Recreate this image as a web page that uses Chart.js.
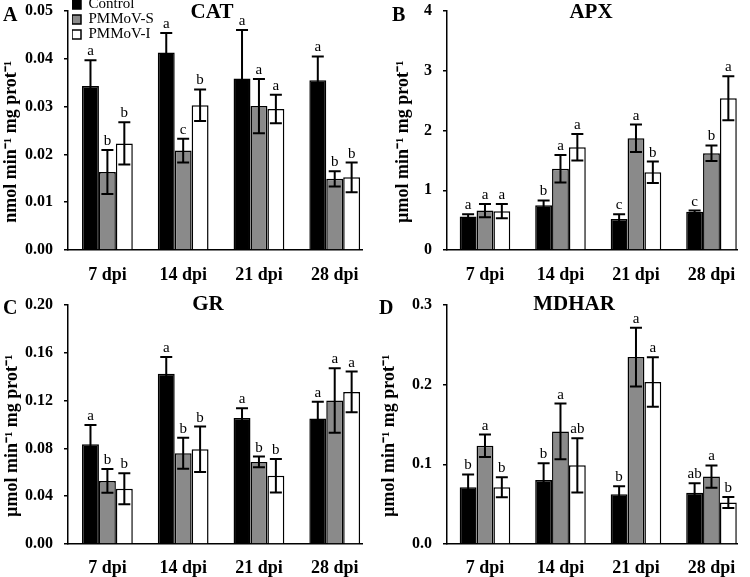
<!DOCTYPE html>
<html>
<head>
<meta charset="utf-8">
<script src="https://cdn.jsdelivr.net/npm/chart.js@4/dist/chart.umd.min.js"></script>
<style>
  html, body { margin: 0; padding: 0; background: #fff; }
  #wrap { position: relative; width: 750px; height: 577px; }
  canvas { position: absolute; }
</style>
</head>
<body>
<div id="wrap">
  <canvas id="cat" width="375" height="290" style="left:0;top:0"></canvas>
  <canvas id="apx" width="375" height="290" style="left:375px;top:0"></canvas>
  <canvas id="gr" width="375" height="287" style="left:0;top:290px"></canvas>
  <canvas id="mdhar" width="375" height="287" style="left:375px;top:290px"></canvas>
</div>
<script>
const days = ['7 dpi', '14 dpi', '21 dpi', '28 dpi'];
const groups = ['Control', 'PMMoV-S', 'PMMoV-I'];

// CAT
const catControl = [0.0343, 0.0413, 0.0359, 0.0355];
const catS = [0.0163, 0.0208, 0.0301, 0.0149];
const catI = [0.0223, 0.0303, 0.0295, 0.0152];
const catErrControl = [0.0054, 0.0041, 0.0101, 0.0050];
const catErrS = [0.0046, 0.0025, 0.0057, 0.0016];
const catErrI = [0.0044, 0.0033, 0.0030, 0.0031];
const catLetControl = ['a', 'a', 'a', 'a'];
const catLetS = ['b', 'c', 'a', 'b'];
const catLetI = ['b', 'b', 'a', 'b'];
const catTicks = [0, 0.01, 0.02, 0.03, 0.04, 0.05];

// APX
const apxControl = [0.56, 0.75, 0.52, 0.64];
const apxS = [0.66, 1.36, 1.87, 1.62];
const apxI = [0.65, 1.72, 1.30, 2.54];
const apxErrControl = [0.04, 0.08, 0.08, 0.02];
const apxErrS = [0.11, 0.23, 0.23, 0.13];
const apxErrI = [0.12, 0.22, 0.18, 0.37];
const apxLetControl = ['a', 'b', 'c', 'c'];
const apxLetS = ['a', 'a', 'a', 'b'];
const apxLetI = ['a', 'a', 'b', 'a'];
const apxTicks = [0, 1, 2, 3, 4];

// GR
const grControl = [0.0835, 0.1424, 0.1055, 0.1050];
const grS = [0.0528, 0.0759, 0.0687, 0.1200];
const grI = [0.0463, 0.0793, 0.0572, 0.1273];
const grErrControl = [0.016, 0.014, 0.008, 0.014];
const grErrS = [0.010, 0.013, 0.0045, 0.027];
const grErrI = [0.013, 0.019, 0.014, 0.017];
const grLetControl = ['a', 'a', 'a', 'a'];
const grLetS = ['b', 'b', 'b', 'a'];
const grLetI = ['b', 'b', 'b', 'a'];
const grTicks = [0, 0.04, 0.08, 0.12, 0.16, 0.20];

// MDHAR
const mdharControl = [0.0713, 0.0804, 0.0625, 0.0642];
const mdharS = [0.1233, 0.1413, 0.2346, 0.0846];
const mdharI = [0.0713, 0.0988, 0.2033, 0.0521];
const mdharErrControl = [0.016, 0.021, 0.010, 0.012];
const mdharErrS = [0.014, 0.035, 0.037, 0.014];
const mdharErrI = [0.0125, 0.034, 0.031, 0.007];
const mdharLetControl = ['b', 'b', 'b', 'ab'];
const mdharLetS = ['a', 'a', 'a', 'a'];
const mdharLetI = ['b', 'ab', 'a', 'b'];
const mdharTicks = [0, 0.1, 0.2, 0.3];

const SERIF = "'Liberation Serif', 'Times New Roman', serif";
Chart.defaults.font.family = SERIF;
Chart.defaults.color = '#000';
Chart.defaults.animation = false;

const fills = ['#000000', '#8a8a8a', '#ffffff'];

// error bars, significance letters, panel title and letter
const deco = {
  id: 'deco',
  afterLayout(chart, args, o) {
    const lg = chart.legend;
    if (lg && o.legendAt) {
      lg.left = o.legendAt[0];
      lg.top = o.legendAt[1];
      lg.right = lg.left + 90;
      lg.bottom = lg.top + 80;
      lg.width = 90;
      lg.height = 80;
    }
  },
  afterDatasetsDraw(chart) {
    const ctx = chart.ctx, ys = chart.scales.y;
    ctx.save();
    chart.data.datasets.forEach((ds, d) => {
      chart.getDatasetMeta(d).data.forEach((bar, i) => {
        const v = ds.data[i].y, e = ds.errors[i];
        const top = ys.getPixelForValue(v + e), bot = ys.getPixelForValue(v - e);
        ctx.strokeStyle = '#000';
        ctx.lineWidth = 2;
        ctx.beginPath();
        ctx.moveTo(bar.x, bot); ctx.lineTo(bar.x, top);
        ctx.moveTo(bar.x - 6, top); ctx.lineTo(bar.x + 6, top);
        ctx.moveTo(bar.x - 6, bot); ctx.lineTo(bar.x + 6, bot);
        ctx.stroke();
        ctx.fillStyle = '#000';
        ctx.font = '15px ' + SERIF;
        ctx.textAlign = 'center';
        ctx.textBaseline = 'alphabetic';
        ctx.fillText(ds.letters[i], bar.x, top - 5);
      });
    });
    ctx.restore();
  },
  afterDraw(chart, args, o) {
    const ctx = chart.ctx;
    ctx.save();
    ctx.fillStyle = '#000';
    ctx.textBaseline = 'alphabetic';
    ctx.font = 'bold 21px ' + SERIF;
    ctx.textAlign = 'center';
    ctx.fillText(o.title, o.titleAt[0], o.titleAt[1]);
    ctx.textAlign = 'left';
    ctx.font = 'bold 20px ' + SERIF;
    ctx.fillText(o.letter, o.letterAt[0], o.letterAt[1]);
    ctx.restore();
  }
};

function series(label, vals, errs, lets, k) {
  return {
    label: label,
    data: vals.map((v, i) => ({ x: i, y: v })),
    errors: errs,
    letters: lets,
    backgroundColor: fills[k],
    borderColor: '#000',
    borderWidth: 1.5,
    categoryPercentage: 0.67,
    barPercentage: 1
  };
}

function panel(id, sets, p) {
  new Chart(document.getElementById(id), {
    type: 'bar',
    data: { datasets: sets },
    plugins: [deco],
    options: {
      responsive: false,
      layout: { padding: { left: 0, top: p.top, right: 13, bottom: 0 } },
      scales: {
        x: {
          type: 'linear', min: p.xMin, max: p.xMax, offset: false,
          ticks: {
            stepSize: 1, includeBounds: false, autoSkip: false, maxRotation: 0,
            padding: p.xPad, font: { size: 18, weight: 'bold' },
            callback: v => days[v] ?? ''
          },
          grid: { display: false, drawTicks: false, offset: false },
          border: { display: true, color: '#000', width: 1.5 },
          afterFit: s => { s.height = p.xHeight; s.paddingLeft = 0; s.paddingRight = 0; }
        },
        y: {
          min: p.ticks[0], max: p.ticks[p.ticks.length - 1],
          afterBuildTicks: s => { s.ticks = p.ticks.map(v => ({ value: v })); },
          ticks: {
            padding: 11, font: { size: 16, weight: 'bold' },
            callback: v => v.toFixed(p.dec)
          },
          grid: { drawOnChartArea: false, tickLength: 4, color: '#000', lineWidth: 1.5 },
          border: { color: '#000', width: 1.5 },
          title: {
            // trailing spaces move the centred label a little toward the axis foot
            display: true, text: p.unit + 'mol min⁻¹ mg prot⁻¹     ',
            font: { size: 18, weight: 'bold' }, padding: { top: p.titlePad, bottom: 0 }
          },
          afterFit: s => { s.width = p.yWidth; s.paddingTop = 0; s.paddingBottom = 0; }
        }
      },
      plugins: {
        legend: p.legend ? {
          display: true, position: 'chartArea', align: 'start',
          labels: { boxWidth: 9, boxHeight: 9, padding: 0, color: '#000',
                    font: { size: 15, lineHeight: 1 } }
        } : { display: false },
        tooltip: { enabled: false },
        deco: {
          title: p.title, titleAt: p.titleAt, letter: p.letter, letterAt: p.letterAt,
          legendAt: p.legend ? [72, -3] : null
        }
      }
    }
  });
}

panel('cat', [
  series(groups[0], catControl, catErrControl, catLetControl, 0),
  series(groups[1], catS, catErrS, catLetS, 1),
  series(groups[2], catI, catErrI, catLetI, 2)
], { top: 11, xHeight: 40, yWidth: 68, xMin: -0.52, xMax: 3.36, xPad: 15,
     titlePad: 1, ticks: catTicks, dec: 2, unit: 'n', legend: true,
     title: 'CAT', titleAt: [212, 18], letter: 'A', letterAt: [3, 21] });

panel('apx', [
  series(groups[0], apxControl, apxErrControl, apxLetControl, 0),
  series(groups[1], apxS, apxErrS, apxLetS, 1),
  series(groups[2], apxI, apxErrI, apxLetI, 2)
], { top: 11, xHeight: 40, yWidth: 72, xMin: -0.503, xMax: 3.338, xPad: 15,
     titlePad: 18, ticks: apxTicks, dec: 0, unit: 'µ', legend: false,
     title: 'APX', titleAt: [216, 18], letter: 'B', letterAt: [17, 21] });

panel('gr', [
  series(groups[0], grControl, grErrControl, grLetControl, 0),
  series(groups[1], grS, grErrS, grLetS, 1),
  series(groups[2], grI, grErrI, grLetI, 2)
], { top: 15, xHeight: 33, yWidth: 68, xMin: -0.52, xMax: 3.36, xPad: 14,
     titlePad: 2, ticks: grTicks, dec: 2, unit: 'µ', legend: false,
     title: 'GR', titleAt: [208, 20], letter: 'C', letterAt: [3, 24] });

panel('mdhar', [
  series(groups[0], mdharControl, mdharErrControl, mdharLetControl, 0),
  series(groups[1], mdharS, mdharErrS, mdharLetS, 1),
  series(groups[2], mdharI, mdharErrI, mdharLetI, 2)
], { top: 15, xHeight: 33, yWidth: 72, xMin: -0.503, xMax: 3.338, xPad: 14,
     titlePad: 4, ticks: mdharTicks, dec: 1, unit: 'µ', legend: false,
     title: 'MDHAR', titleAt: [199, 20], letter: 'D', letterAt: [4, 24] });
</script>
</body>
</html>
